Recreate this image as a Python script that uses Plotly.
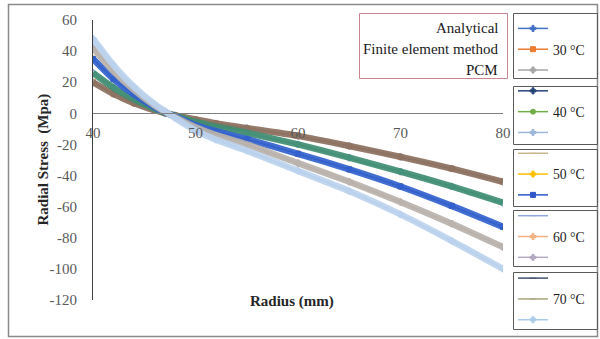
import plotly.graph_objects as go

# ---------------- data ----------------
radius = [40, 42, 44, 46, 47, 48, 50, 52, 55, 60, 65, 70, 75, 80]
stress_30 = [20, 12.5, 6.5, 2, 0.2, -1.3, -4, -6.5, -9.5, -14.5, -21, -28, -35.5, -44]
stress_40 = [26, 16.5, 9, 3, 0.5, -1.5, -5.5, -8.5, -12.5, -20, -28.5, -37.5, -47, -57.5]
stress_50 = [35, 22, 12, 4, 0.8, -2, -7.5, -11.5, -16.5, -26, -36, -47, -59.5, -73]
stress_60 = [42, 27, 15, 5, 1, -2.5, -9, -14, -20, -32, -44, -57, -71, -86]
stress_70 = [48, 31, 17, 6, 1.5, -3, -11, -17, -24, -37, -50, -65, -82, -100]

temps = ["30 °C", "40 °C", "50 °C", "60 °C", "70 °C"]
stresses = [stress_30, stress_40, stress_50, stress_60, stress_70]
methods = ["Analytical", "Finite element method", "PCM"]
x_ticks = [40, 50, 60, 70, 80]
y_ticks = [60, 40, 20, 0, -20, -40, -60, -80, -100, -120]

# ---------------- styles ----------------
series_colors = [
    ["#4472C4", "#ED7D31", "#A5A5A5"],
    ["#264478", "#70AD47", "#9DB7DD"],
    ["#C8B88A", "#FFC000", "#2F55C8"],
    ["#8FAADC", "#F4B183", "#B4A9C0"],
    ["#44546A", "#A9A482", "#A9CBEA"],
]
series_symbols = [
    ["cross", "square", "cross"],
    ["cross", "circle", "cross"],
    ["line-ew", "cross", "square"],
    ["line-ew", "cross", "cross"],
    ["line-ew", "line-ew", "cross"],
]
band_colors = ["#8C6F5E", "#3F8E72", "#3362CF", "#BAB3AC", "#BCD3EE"]

FONT = "Liberation Serif"
L, R, T, B = 93, 97, 20, 39
W, H = 600, 339
PW, PH = W - L - R, H - T - B


def px_x(px):
    return (px - L) / PW


def px_y(py):
    return (H - B - py) / PH


fig = go.Figure()

# legend-carrying series (one per method and temperature)
for ti, (temp, vals) in enumerate(zip(temps, stresses)):
    for mi, method in enumerate(methods):
        sym = series_symbols[ti][mi]
        fig.add_trace(go.Scatter(
            x=radius, y=vals,
            mode="lines+markers",
            name=temp if mi == 1 else "",
            line=dict(color=series_colors[ti][mi], width=1.5),
            marker=dict(symbol=sym, size=5, color=series_colors[ti][mi],
                        line=dict(color=series_colors[ti][mi], width=1)),
            showlegend=True,
            hoverinfo="skip",
        ))

# visible overlapping bands (three coincident methods per temperature)
for ti, vals in enumerate(stresses):
    fig.add_trace(go.Scatter(
        x=radius, y=vals, mode="lines",
        line=dict(color=band_colors[ti], width=6.5, shape="spline", smoothing=0.6),
        opacity=0.92,
        showlegend=False, hoverinfo="skip",
    ))

shapes = []
# outer frame
shapes.append(dict(type="rect", xref="paper", yref="paper",
                   x0=px_x(8.5), x1=px_x(597.5), y0=px_y(336.5), y1=px_y(4.5),
                   line=dict(color="#8a8a8a", width=1.5), layer="below"))
# method box
shapes.append(dict(type="rect", xref="paper", yref="paper",
                   x0=px_x(359.5), x1=px_x(507.5), y0=px_y(78.5), y1=px_y(13.5),
                   line=dict(color="#C98391", width=1)))
# legend group boxes
for top, bot in [(13, 78), (86, 144), (149, 206), (210, 266), (272, 329)]:
    shapes.append(dict(type="rect", xref="paper", yref="paper",
                       x0=px_x(513.5), x1=px_x(597.5), y0=px_y(bot + 0.5), y1=px_y(top + 0.5),
                       line=dict(color="#5a5a5a", width=1)))

annotations = [
    dict(text="<b>Radius (mm)</b>", xref="paper", yref="paper",
         x=px_x(292), y=px_y(312), showarrow=False,
         font=dict(family=FONT, size=15, color="#262626")),
    dict(text="<b>Radial Stress\u00a0\u00a0(Mpa)</b>", xref="paper", yref="paper",
         x=px_x(32), y=px_y(160), showarrow=False, textangle=-90,
         font=dict(family=FONT, size=15, color="#262626")),
]
for txt, py in zip(methods, [28, 49, 70]):
    annotations.append(dict(text=txt, xref="paper", yref="paper",
                            x=px_x(500), y=px_y(py), xanchor="right", yanchor="middle",
                            showarrow=False,
                            font=dict(family=FONT, size=15, color="#1a1a1a")))

fig.update_layout(
    width=W, height=H,
    margin=dict(l=L, r=R, t=T, b=B, autoexpand=False),
    paper_bgcolor="white", plot_bgcolor="white",
    font=dict(family=FONT, size=15, color="#595959"),
    xaxis=dict(range=[40, 80], tickvals=x_ticks, ticktext=[str(v) for v in x_ticks],
               anchor="free", position=120 / 180, showline=True, linecolor="#808080",
               linewidth=1, showgrid=False, zeroline=False, ticks="",
               ticklabelstandoff=6,
               tickfont=dict(family=FONT, size=15, color="#595959")),
    yaxis=dict(range=[-120, 60], tickvals=y_ticks, ticktext=[str(v) for v in y_ticks],
               showline=True, linecolor="#404040", linewidth=1, showgrid=False,
               zeroline=False, ticks="", ticklabelstandoff=12,
               tickfont=dict(family=FONT, size=15, color="#595959")),
    legend=dict(x=px_x(513), xanchor="left", yref="container", y=1 - 13 / H, yanchor="top",
                font=dict(family=FONT, size=13.7, color="#1a1a1a"),
                bgcolor="rgba(0,0,0,0)", borderwidth=0, tracegroupgap=0,
                traceorder="normal", itemwidth=30, maxheight=600),
    shapes=shapes,
    annotations=annotations,
    showlegend=True,
)

fig.write_html("out.html")
